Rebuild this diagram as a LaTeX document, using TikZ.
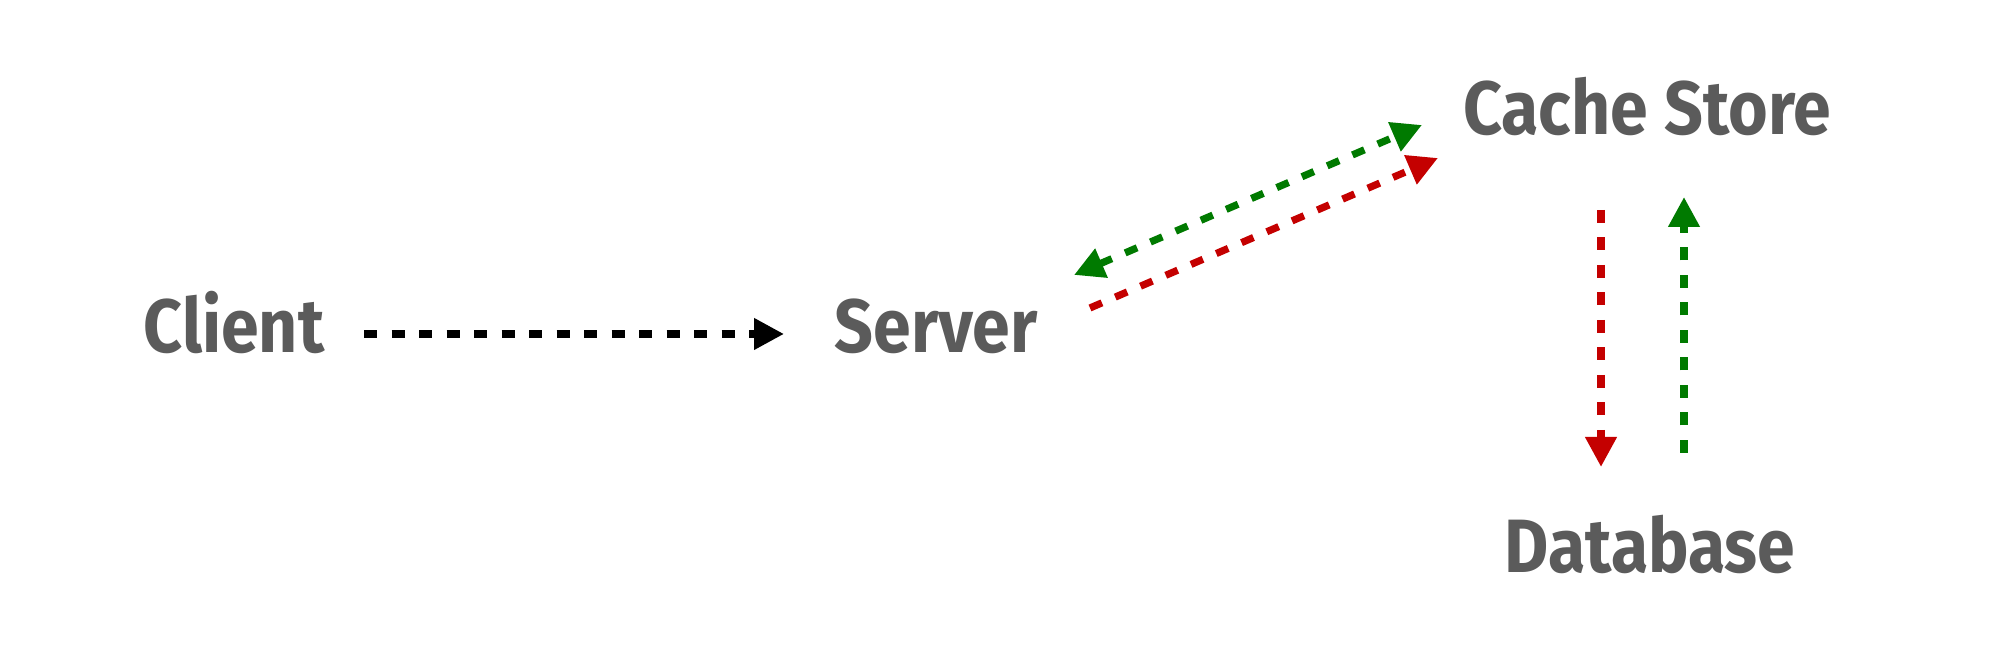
\documentclass[tikz,border=0pt]{standalone}
\usepackage{fontspec}
\setmainfont{Fira Sans}[FakeStretch=0.9]
\usetikzlibrary{arrows.meta}
\definecolor{txtgray}{HTML}{5B5B5B}
\definecolor{arrgreen}{HTML}{007A00}
\definecolor{arrred}{HTML}{C40000}
\tikzset{
  lbl/.style={font=\fontsize{21.5}{24}\selectfont\bfseries, text=txtgray, anchor=base, inner sep=0pt},
  flow/.style={line width=0.072cm, dash pattern=on 0.13cm off 0.145cm, -{Triangle[length=0.3cm,width=0.3cm]}},
  flowboth/.style={flow, {Triangle[length=0.3cm,width=0.3cm]}-{Triangle[length=0.3cm,width=0.3cm]}}
}
\begin{document}
\begin{tikzpicture}
\useasboundingbox (0,0) rectangle (20,6.71);
\node[lbl] (client) at (2.34,3.18) {Client};
\node[lbl] (server) at (9.36,3.18) {Server};
\node[lbl] (cache) at (16.47,5.36) {Cache Store};
\node[lbl] (db) at (16.50,0.98) {Database};
\coordinate (bA) at (3.64,3.37);
\coordinate (bB) at (7.84,3.37);
\coordinate (gA) at (14.22,5.46);
\coordinate (gB) at (10.74,3.96);
\coordinate (rA) at (10.90,3.63);
\coordinate (rB) at (14.38,5.13);
\coordinate (rvA) at (16.01,4.61);
\coordinate (rvB) at (16.01,2.04);
\coordinate (gvA) at (16.84,2.18);
\coordinate (gvB) at (16.84,4.74);
\draw[flow, black] (bA) -- (bB);
\draw[flowboth, arrgreen] (gB) -- (gA);
\draw[flow, arrred] (rA) -- (rB);
\draw[flow, arrred] (rvA) -- (rvB);
\draw[flow, arrgreen] (gvA) -- (gvB);
\end{tikzpicture}
\end{document}
